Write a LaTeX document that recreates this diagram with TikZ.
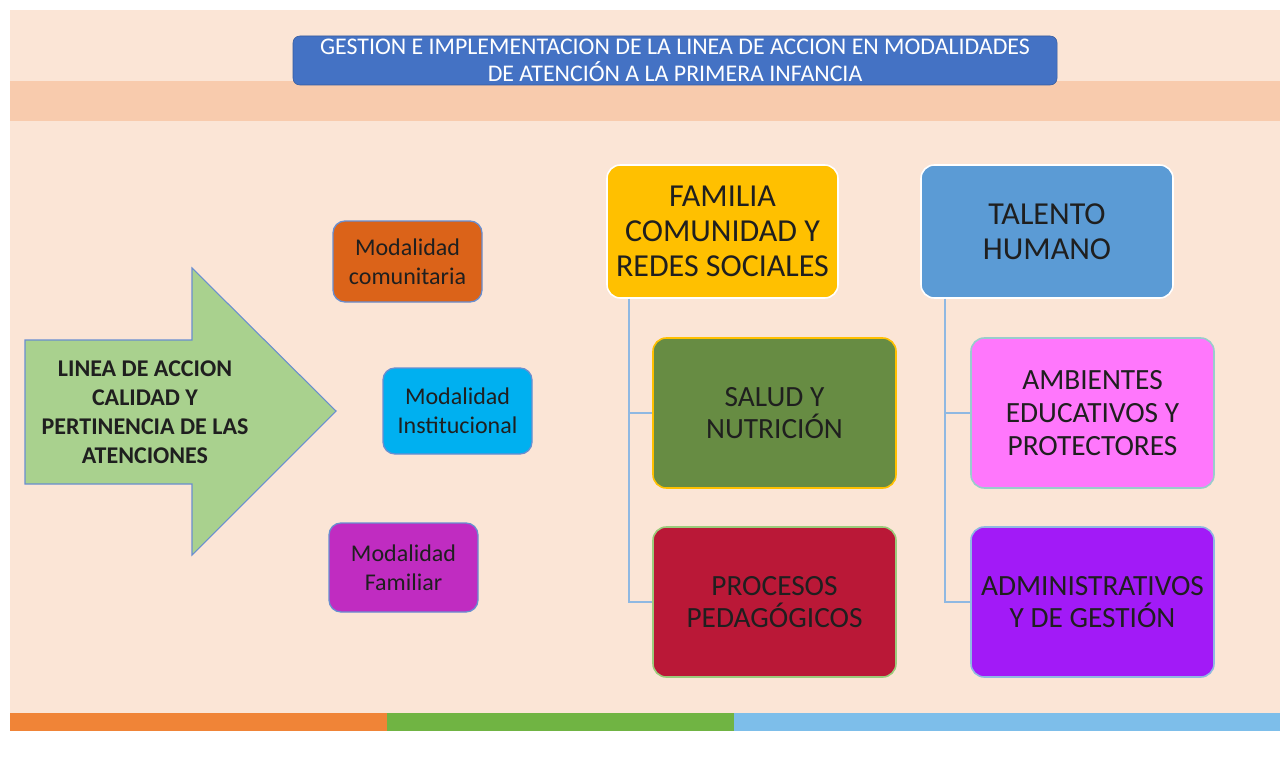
\documentclass[tikz,border=0pt]{standalone}
\usepackage{fontspec}
\setmainfont{Carlito}
\usepackage{xcolor}
\usepackage{tikz}

\definecolor{fondo}{HTML}{FBE5D6}
\definecolor{franja}{HTML}{F8CBAD}
\definecolor{azultit}{HTML}{4472C4}
\definecolor{flecha}{HTML}{A9D18E}
\definecolor{comunit}{HTML}{DB6319}
\definecolor{instit}{HTML}{00B0F0}
\definecolor{famil}{HTML}{C02CC1}
\definecolor{amarillo}{HTML}{FFC000}
\definecolor{talento}{HTML}{5B9BD5}
\definecolor{salud}{HTML}{678C43}
\definecolor{pedag}{HTML}{BA1837}
\definecolor{rosa}{HTML}{FF77FC}
\definecolor{morado}{HTML}{A21AF7}
\definecolor{tronco}{HTML}{8FB8E2}
\definecolor{barnaranja}{HTML}{F08437}
\definecolor{barverde}{HTML}{70B443}
\definecolor{barceleste}{HTML}{7DBEEA}

\begin{document}
\begin{tikzpicture}[x=0.75pt,y=-0.75pt,
    caja/.style={rounded corners=9pt,draw,line width=1pt,align=center,inner sep=0pt,text=black!88},
    modal/.style={caja,draw=azultit!80,minimum width=111.75pt,font=\fontsize{18}{21.75}\selectfont},
    grande/.style={caja,rounded corners=10pt,line width=1.2pt,minimum width=182.25pt,minimum height=112.5pt,font=\fontsize{22}{24.5}\selectfont},
    cabeza/.style={grande,draw=white,minimum height=99.75pt,font=\fontsize{24}{26}\selectfont},
    rama/.style={draw=tronco,line width=1.3pt}]
  % fondo y franjas
  \fill[white] (0,0) rectangle (1280,756);
  \fill[fondo] (10,10) rectangle (1280,713);
  \fill[franja] (10,81) rectangle (1280,121);
  \foreach \a/\b/\c in {10/387/barnaranja,387/734/barverde,734/1280/barceleste}
    \fill[\c] (\a,713) rectangle (\b,731);
  % titulo
  \node[rounded corners=5pt,draw=azultit!80!black,fill=azultit,text=white,align=center,
    minimum width=573pt,minimum height=36.75pt,inner sep=0pt,font=\fontsize{17.9}{20.5}\selectfont]
    (titulo) at (675,60.5) {GESTION E IMPLEMENTACION DE LA LINEA DE ACCION EN MODALIDADES\\DE ATENCIÓN A LA PRIMERA INFANCIA};
  % flecha
  \draw[draw=azultit!80,fill=flecha,line width=0.8pt] (25,340) -- (192,340) -- (192,268) -- (336,411)
    -- (192,555) -- (192,484) -- (25,484) -- cycle;
  \node[align=center,font=\bfseries\fontsize{18}{21.75}\selectfont,text=black!88] (linea) at (145,412)
    {LINEA DE ACCION\\CALIDAD Y\\PERTINENCIA DE LAS\\ATENCIONES};
  % modalidades
  \node[modal,fill=comunit,minimum height=60.75pt] (comunitaria) at (407.5,261.5) {Modalidad\\comunitaria};
  \node[modal,fill=instit,minimum height=64.5pt] (institucional) at (457.5,411) {Modalidad\\Institucional};
  \node[modal,fill=famil,minimum height=66.75pt] (familiar) at (403.5,567.5) {Modalidad\\Familiar};
  % componentes
  \node[cabeza,fill=amarillo,minimum width=173.25pt] (familia) at (722.5,231.5)
    {FAMILIA\\COMUNIDAD Y\\REDES SOCIALES};
  \node[cabeza,fill=talento,minimum width=189pt] (humano) at (1047,231.5)
    {TALENTO\\HUMANO};
  \node[grande,draw=amarillo,fill=salud] (nutricion) at (774.5,413) {SALUD Y\\NUTRICIÓN};
  \node[grande,draw=barverde!70,fill=pedag] (procesos) at (774.5,602) {PROCESOS\\PEDAGÓGICOS};
  \node[grande,draw=teal!40,fill=rosa] (ambientes) at (1092.5,413) {AMBIENTES\\EDUCATIVOS Y\\PROTECTORES};
  \node[grande,draw=tronco,fill=morado] (gestion) at (1092.5,602) {ADMINISTRATIVOS\\Y DE GESTIÓN};
  % ramas
  \draw[rama] ([xshift=17.25pt]familia.south west) |- (nutricion.west);
  \draw[rama] ([xshift=17.25pt]familia.south west) |- (procesos.west);
  \draw[rama] ([xshift=18.75pt]humano.south west) |- (ambientes.west);
  \draw[rama] ([xshift=18.75pt]humano.south west) |- (gestion.west);
\end{tikzpicture}
\end{document}
